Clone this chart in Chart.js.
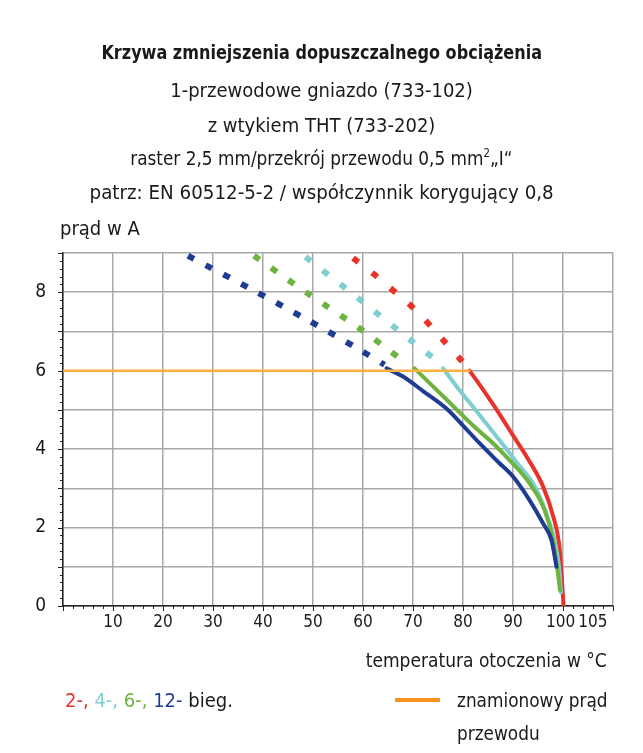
<!DOCTYPE html>
<html><head><meta charset="utf-8">
<script src="https://cdn.jsdelivr.net/npm/chart.js@4/dist/chart.umd.min.js"></script>
<style>
html,body{margin:0;padding:0;background:#fff;}
#wrap{position:relative;width:643px;height:753px;overflow:hidden;font-family:"Liberation Sans Narrow","DejaVu Sans Condensed",sans-serif;color:#1a1a1a;}
canvas{position:absolute;left:0;top:0;}
.t{position:absolute;white-space:nowrap;font-size:20px;line-height:24px;}
.c{left:0;width:643px;text-align:center;}
.c span{display:inline-block;}
</style></head>
<body><div id="wrap">
<canvas id="c" width="643" height="753"></canvas>
<div class="t c" style="top:40px;font-weight:bold;"><span style="transform:scaleX(0.893);">Krzywa zmniejszenia dopuszczalnego obciążenia</span></div>
<div class="t c" style="top:78px;"><span>1-przewodowe gniazdo (733-102)</span></div>
<div class="t c" style="top:113px;"><span>z wtykiem THT (733-202)</span></div>
<div class="t c" style="top:146px;"><span style="transform:scaleX(0.94);">raster 2,5 mm/przekrój przewodu 0,5 mm<sup style="font-size:12px;line-height:0">2</sup>„I“</span></div>
<div class="t c" style="top:180px;"><span style="transform:scaleX(1.015);">patrz: EN 60512-5-2 / współczynnik korygujący 0,8</span></div>
<div class="t" style="left:60px;top:216px;">prąd w A</div>
<div class="t" style="right:36px;top:648px;transform:scaleX(0.95);transform-origin:right center;">temperatura otoczenia w °C</div>
<div class="t" style="left:65px;top:688px;"><span style="color:#e8332a">2-,</span> <span style="color:#7fcfd1">4-,</span> <span style="color:#6db33f">6-,</span> <span style="color:#1f3c93">12-</span> bieg.</div>
<div style="position:absolute;left:395px;top:698px;width:45px;height:4px;background:#f7941d;"></div>
<div class="t" style="left:457px;top:688px;transform:scaleX(0.94);transform-origin:left center;">znamionowy prąd</div>
<div class="t" style="left:457px;top:721px;transform:scaleX(0.94);transform-origin:left center;">przewodu</div>
</div>
<script>
// ---- data (temperature in °C, current in A) ----
const redSolidT   = [81.3, 83, 85, 87, 90, 93, 96, 98, 99.2, 99.7, 100.1];
const redSolidI   = [6.0, 5.7, 5.33, 4.95, 4.35, 3.75, 3.05, 2.3, 1.6, 0.85, 0];
const cyanSolidT  = [76, 79, 82.5, 88.7, 91, 94, 96.7, 98.3, 99.2, 99.6];
const cyanSolidI  = [6.06, 5.55, 5.0, 4.0, 3.62, 3.13, 2.36, 1.68, 1.0, 0.35];
const greenSolidT = [70.3, 74, 78.8, 82, 86, 89.3, 93.3, 96.3, 98, 99, 99.4];
const greenSolidI = [6.06, 5.6, 5.0, 4.6, 4.15, 3.72, 3.13, 2.45, 1.68, 0.83, 0.4];
const blueSolidT  = [64.7, 66, 68, 72, 77, 80, 83.3, 87.3, 90, 93.3, 96, 97.7, 98.7];
const blueSolidI  = [6.06, 5.98, 5.85, 5.48, 5.0, 4.6, 4.15, 3.64, 3.3, 2.7, 2.11, 1.68, 1.0];

const redDashT    = [58, 61.9, 65.3, 68.8, 72.2, 75.7, 79.1, 80.8];
const redDashI    = [8.87, 8.49, 8.12, 7.75, 7.32, 6.83, 6.34, 6.1];
const cyanDashT   = [48.5, 59, 69.3, 74.8];
const cyanDashI   = [8.9, 7.85, 6.8, 6.25];
const greenDashT  = [38.2, 48.7, 59.1, 67.5];
const greenDashI  = [8.93, 7.99, 7.1, 6.3];
const blueDashT   = [25, 38.2, 48.7, 59, 64.3];
const blueDashI   = [8.93, 8.04, 7.31, 6.56, 6.15];

const ratedT = [0, 81.5];
const ratedI = [6, 6];

const xTickValues = [0, 10, 20, 30, 40, 50, 60, 70, 80, 90, 100, 105, 110];
const yTickLabels = [0, 2, 4, 6, 8];

const FONT = '"Liberation Sans Narrow","DejaVu Sans Condensed",sans-serif';
const pts = (T, I) => T.map((t, i) => ({x: t, y: I[i]}));
const RED='#e8332a', CYAN='#7fcfd1', GREEN='#6db33f', BLUE='#1f3c93', ORANGE='#fbb040';

function solid(T, I, col){ return {data: pts(T,I), borderColor: col, borderWidth: 4, pointRadius: 0, tension: 0.35, cubicInterpolationMode: 'monotone', fill:false, borderCapStyle:'round'}; }
function dashed(T, I, col, dash){ return {data: pts(T,I), borderColor: col, borderWidth: 6, pointRadius: 0, tension: 0.3, fill:false, borderDash: dash, borderCapStyle:'butt'}; }

const minorTicks = {
  id: 'minorTicks',
  afterDraw(chart){
    const ctx = chart.ctx, xs = chart.scales.x, ys = chart.scales.y;
    const a = chart.chartArea;
    ctx.save();
    ctx.strokeStyle = '#222'; ctx.lineWidth = 1;
    for (let v = 0; v <= 9.001; v += 0.2) {
      const y = Math.round(ys.getPixelForValue(v)) + 0.5;
      const major = Math.abs(v - Math.round(v)) < 0.01;
      ctx.beginPath(); ctx.moveTo(a.left - (major ? 5 : 3), y); ctx.lineTo(a.left, y); ctx.stroke();
    }
    for (let v = 0; v <= 110.01; v += 2) {
      const x = Math.round(xs.getPixelForValue(v)) + 0.5;
      const major = v % 10 === 0;
      ctx.beginPath(); ctx.moveTo(x, a.bottom); ctx.lineTo(x, a.bottom + (major ? 5 : 3)); ctx.stroke();
    }
    ctx.restore();
  }
};

new Chart(document.getElementById('c'), {
  type: 'line',
  data: { datasets: [
    {data: pts(ratedT, ratedI), borderColor: ORANGE, borderWidth: 2.5, pointRadius: 0, fill:false},
    dashed(blueDashT, blueDashI, BLUE, [7, 13]),
    dashed(greenDashT, greenDashI, GREEN, [7, 14]),
    dashed(cyanDashT, cyanDashI, CYAN, [7, 15]),
    dashed(redDashT, redDashI, RED, [7, 17]),
    solid(blueSolidT, blueSolidI, BLUE),
    solid(greenSolidT, greenSolidI, GREEN),
    solid(cyanSolidT, cyanSolidI, CYAN),
    solid(redSolidT, redSolidI, RED)
  ]},
  options: {
    responsive: false, animation: false, events: [],
    layout: { padding: { left: 0, right: 30, top: 253, bottom: 107 } },
    plugins: { legend: {display:false}, tooltip: {enabled:false}, title:{display:false} },
    scales: {
      x: {
        type: 'linear', min: 0, max: 110,
        afterBuildTicks: s => { s.ticks = xTickValues.map(v => ({value: v})); },
        afterFit: s => { s.height = 40; },
        grid: { color: c => (c.tick && c.tick.value === 105) ? 'rgba(0,0,0,0)' : '#a8a8a8', lineWidth: 1.5, drawTicks: false },
        border: { color: '#222', width: 1.5 },
        ticks: { autoSkip: false, maxRotation: 0, padding: 6, color: '#1a1a1a', font: {family: FONT, size: 17},
                 callback: v => (v === 0 || v === 110) ? '' : (v === 100 ? '100 ' : (v === 105 ? '  105' : String(v))) }
      },
      y: {
        type: 'linear', min: 0, max: 9,
        afterFit: s => { s.width = 63; },
        grid: { color: '#a8a8a8', lineWidth: 1.5, drawTicks: false },
        border: { color: '#222', width: 1.5 },
        ticks: { stepSize: 1, padding: 17, color: '#1a1a1a', font: {family: FONT, size: 19},
                 callback: v => yTickLabels.includes(v) ? String(v) : '' }
      }
    }
  },
  plugins: [minorTicks]
});
</script>
</body></html>
